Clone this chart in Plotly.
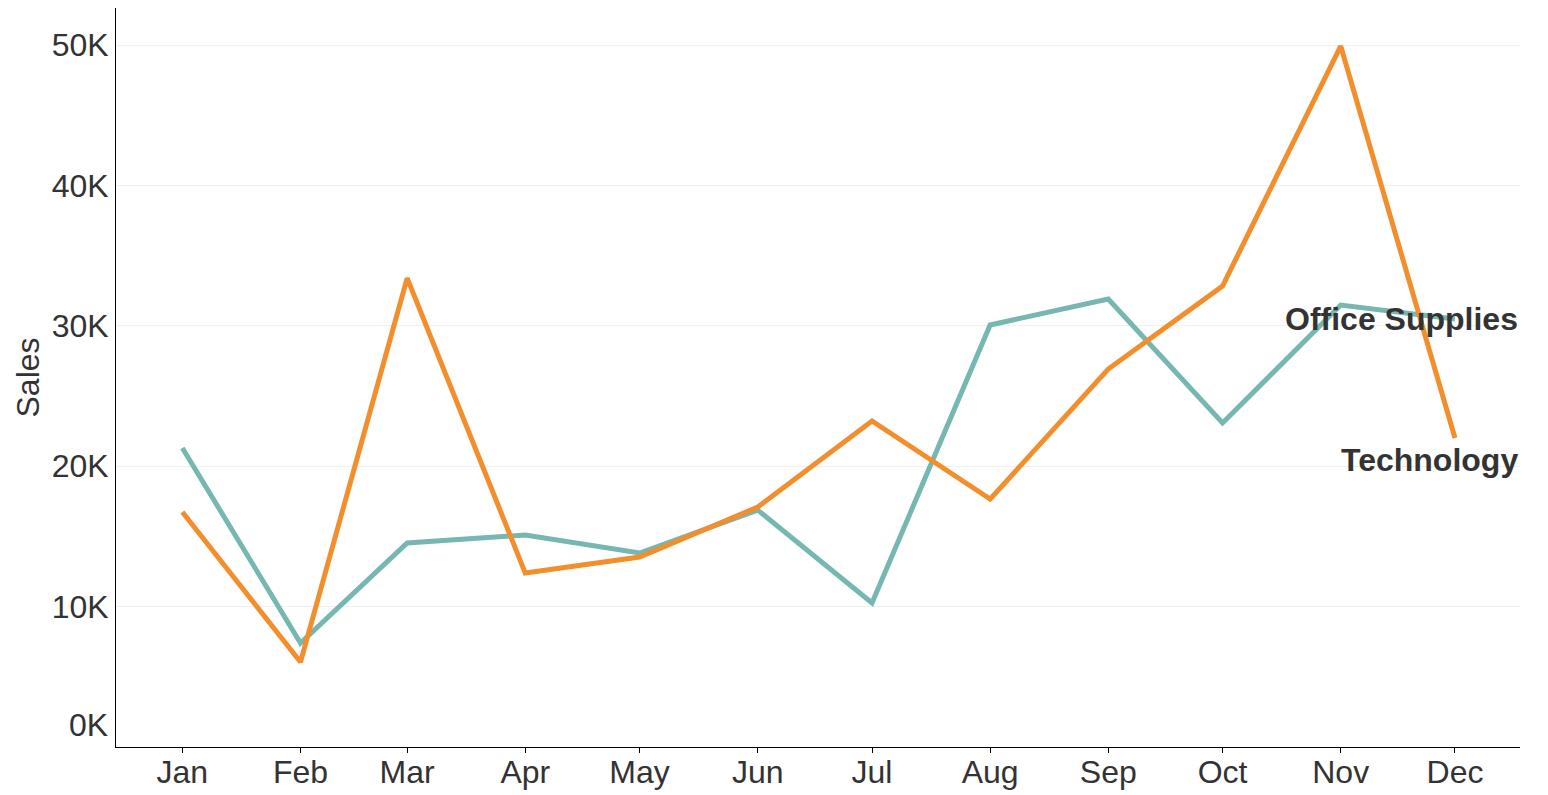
import plotly.graph_objects as go

months = ["2019-01-01", "2019-02-01", "2019-03-01", "2019-04-01", "2019-05-01", "2019-06-01",
          "2019-07-01", "2019-08-01", "2019-09-01", "2019-10-01", "2019-11-01", "2019-12-01"]
technology = [16740, 6050, 33400, 12390, 13530, 17090, 23220, 17660, 26920, 32830, 49930, 22010]
office_supplies = [21300, 7410, 14530, 15100, 13820, 16880, 10260, 30060, 31910, 23080, 31480, 30480]
y_ticks = [10000, 20000, 30000, 40000, 50000]
y_tick_text = ["10K", "20K", "30K", "40K", "50K"]

FONT = "Liberation Sans, Arial, sans-serif"
TXT = "#333333"
FS = 32

fig = go.Figure()
fig.add_trace(go.Scatter(x=months, y=office_supplies, mode="lines", name="Office Supplies",
                         line=dict(color="#76B7B2", width=5)))
fig.add_trace(go.Scatter(x=months, y=technology, mode="lines", name="Technology",
                         line=dict(color="#F28E2B", width=5)))

fig.add_annotation(x=1, xref="paper", xanchor="right", y=office_supplies[-1], yref="y",
                   yanchor="middle", yshift=0, text="<b>Office Supplies</b>", showarrow=False,
                   font=dict(family=FONT, size=FS, color=TXT))
fig.add_annotation(x=1, xref="paper", xanchor="right", y=technology[-1], yref="y",
                   yanchor="middle", yshift=-22, text="<b>Technology</b>", showarrow=False,
                   font=dict(family=FONT, size=FS, color=TXT))
fig.add_annotation(x=0, xref="paper", xanchor="right", xshift=-6, y=0, yref="y",
                   yanchor="middle", yshift=22, text="0K", showarrow=False,
                   font=dict(family=FONT, size=FS, color=TXT))

fig.update_layout(
    width=1548, height=795,
    margin=dict(l=116, r=28, t=8, b=48),
    paper_bgcolor="white", plot_bgcolor="white",
    showlegend=False,
    font=dict(family=FONT, size=FS, color=TXT),
)
fig.update_xaxes(
    type="date", range=["2018-12-14 14:00", "2019-12-18 01:30"],
    tickmode="array", tickvals=months, tickformat="%b", automargin=False,
    showgrid=False, showline=True, linecolor="black", linewidth=1,
    ticks="outside", ticklen=5, tickcolor="black", tickwidth=1,
    ticklabelstandoff=-8,
    tickfont=dict(family=FONT, size=FS, color=TXT),
)
fig.update_yaxes(
    range=[0, 52640], tickvals=y_ticks, ticktext=y_tick_text, automargin=False,
    showgrid=True, gridcolor="#f0f0f0", gridwidth=1,
    showline=True, linecolor="black", linewidth=1, zeroline=False,
    ticks="", tickfont=dict(family=FONT, size=FS, color=TXT),
    title=dict(text="Sales", standoff=2, font=dict(family=FONT, size=FS, color=TXT)),
)

fig.write_html("out.html")
